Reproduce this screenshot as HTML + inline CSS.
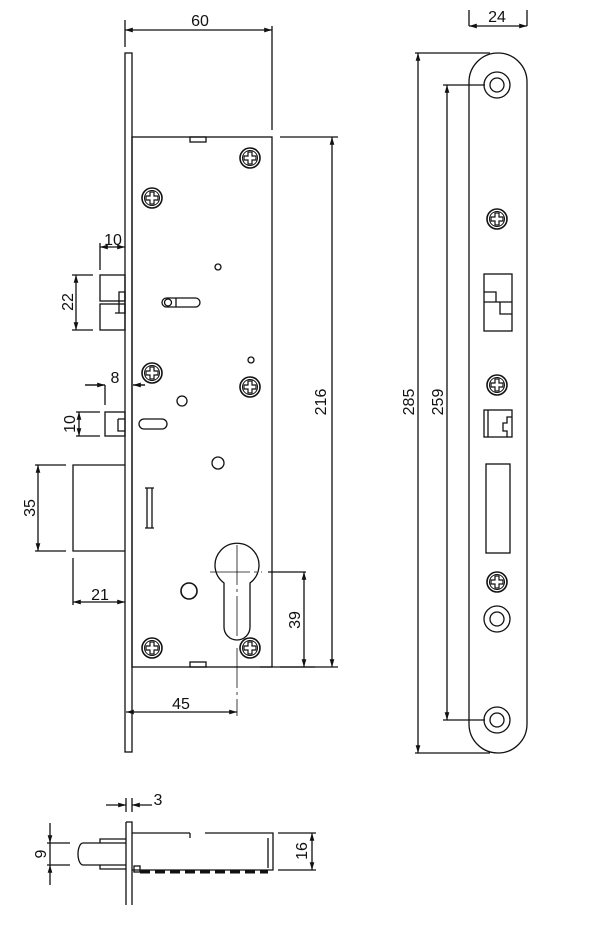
<!DOCTYPE html>
<html><head><meta charset="utf-8"><style>body{margin:0;background:#fff}svg{display:block}text{font-family:"Liberation Sans",sans-serif;font-size:16px;fill:#111}</style></head><body>
<svg width="600" height="930" viewBox="0 0 600 930" xmlns="http://www.w3.org/2000/svg">
<defs>
<marker id="a" viewBox="0 0 10 10" refX="10" refY="5" markerWidth="8" markerHeight="6" orient="auto-start-reverse"><path d="M0,2 L10,5 L0,8 z" fill="#111"/></marker>
<g id="sc"><circle r="10" fill="none" stroke="#111" stroke-width="1.6"/><circle r="7.5" fill="none" stroke="#111" stroke-width="1"/><path d="M-2,-6 h4 v4 h4 v4 h-4 v4 h-4 v-4 h-4 v-4 h4 z" fill="none" stroke="#111" stroke-width="1.2"/></g>
</defs>
<g fill="none" stroke="#111" stroke-width="1.3">
<rect x="125" y="53" width="7" height="699"/>
<rect x="132" y="137" width="140" height="530"/>
<rect x="190" y="137" width="16" height="5"/>
<rect x="190" y="662" width="16" height="5"/>
<rect x="100" y="275" width="25" height="26"/>
<rect x="100" y="304" width="25" height="26"/>
<path d="M119,292 h6 v21 h-6 z M115,313 h10"/>
<rect x="105" y="412" width="20" height="24"/>
<path d="M118,419 v12 h7 M118,419 h7"/>
<path d="M125,465 H73 V551 H125"/>
<rect x="162" y="298" width="38" height="9" rx="4.5"/>
<circle cx="168" cy="302.5" r="3.5"/>
<path d="M176,298 v9"/>
<rect x="139" y="419" width="28" height="10" rx="5"/>
<path d="M147,488 v40 M152,488 v40 M145,488 h9 M145,528 h9"/>
<circle cx="218" cy="267" r="3"/>
<circle cx="251" cy="360" r="3"/>
<circle cx="182" cy="401" r="5"/>
<circle cx="218" cy="463" r="6"/>
<circle cx="189" cy="591" r="8" stroke-width="1.6"/>
<path d="M224,583 A22,22 0 1 1 250,583 V627 A13,13 0 0 1 224,627 Z"/>
<path d="M237,545 V640 M237,648 V716 M210,572 H262" stroke-width="0.8" stroke-dasharray="40,4,3,4"/>
<path d="M125,47 V20 M272,130 V26"/>
<path d="M125,30 H272" marker-start="url(#a)" marker-end="url(#a)"/>
<path d="M280,137 H338 M280,667 H338"/>
<path d="M332,137 V667" marker-start="url(#a)" marker-end="url(#a)"/>
<path d="M100,243 V270"/>
<path d="M100,247 H125" marker-start="url(#a)" marker-end="url(#a)"/>
<path d="M72,275 H93 M72,330 H93"/>
<path d="M76,275 V330" marker-start="url(#a)" marker-end="url(#a)"/>
<path d="M105,385 V405 M85,385 H105 M133,385 H145"/>
<path d="M85,385 H105" marker-end="url(#a)"/>
<path d="M145,385 H133" marker-end="url(#a)"/>
<path d="M76,412 H100 M76,436 H100"/>
<path d="M79,412 V436" marker-start="url(#a)" marker-end="url(#a)"/>
<path d="M35,465 H66 M35,551 H66"/>
<path d="M38,465 V551" marker-start="url(#a)" marker-end="url(#a)"/>
<path d="M73,558 V605"/>
<path d="M73,602 H125" marker-start="url(#a)" marker-end="url(#a)"/>
<path d="M268,572 H306 M260,667 H315"/>
<path d="M304,572 V667" marker-start="url(#a)" marker-end="url(#a)"/>
<path d="M126,712 H237" marker-start="url(#a)" marker-end="url(#a)"/>
<path d="M469,82 A29,29 0 0 1 527,82 V724 A29,29 0 0 1 469,724 Z"/>
<circle cx="497" cy="85" r="13"/><circle cx="497" cy="85" r="7"/>
<circle cx="497" cy="720" r="13"/><circle cx="497" cy="720" r="7"/>
<circle cx="497" cy="619" r="13"/><circle cx="497" cy="619" r="7"/>
<rect x="484" y="274" width="28" height="57"/>
<path d="M484,292 h12 v10 h16 M484,302 h16 v12 h12"/>
<rect x="484" y="410" width="28" height="27"/>
<path d="M488,410 v27 M512,417 h-5 v6 h-4 v8 h4 v6"/>
<rect x="486" y="464" width="24" height="89"/>
<path d="M469,26 V10 M527,26 V10"/>
<path d="M469,26 H527" marker-start="url(#a)" marker-end="url(#a)"/>
<path d="M415,53 H490 M415,753 H490 M443,85 H485 M443,720 H485"/>
<path d="M418,53 V753" marker-start="url(#a)" marker-end="url(#a)"/>
<path d="M447,85 V720" marker-start="url(#a)" marker-end="url(#a)"/>
<path d="M126,822 H132 V905 M126,822 V905"/>
<path d="M132,833 H190 M205,833 H273 V870 H132"/>
<path d="M268,838 V868 M190,833 v5"/>
<path d="M126,843 H83 A5,11 0 0 0 83,865 H126 M100,843 v-4 h26 M100,865 v4 h26"/>
<path d="M126,798 V812 M132,798 V812"/>
<path d="M106,805 H126" marker-end="url(#a)"/>
<path d="M152,805 H132" marker-end="url(#a)"/>
<path d="M278,833 H316 M278,870 H316"/>
<path d="M312,833 V870" marker-start="url(#a)" marker-end="url(#a)"/>
<path d="M47,843 H70 M47,865 H70"/>
<path d="M50,823 V843" marker-end="url(#a)"/>
<path d="M50,885 V865" marker-end="url(#a)"/>
<path d="M50,843 V865"/>
<path d="M140,872 H268" stroke-width="3" stroke-dasharray="10,5"/>
<rect x="134" y="866" width="6" height="6"/>
</g>
<use href="#sc" x="250" y="158"/><use href="#sc" x="152" y="198"/><use href="#sc" x="152" y="373"/><use href="#sc" x="250" y="387"/><use href="#sc" x="152" y="648"/><use href="#sc" x="250" y="648"/>
<use href="#sc" x="497" y="219"/><use href="#sc" x="497" y="385"/><use href="#sc" x="497" y="582"/>
<text x="200" y="26" text-anchor="middle">60</text>
<text x="113" y="245" text-anchor="middle">10</text>
<text x="115" y="383" text-anchor="middle">8</text>
<text x="100" y="600" text-anchor="middle">21</text>
<text x="181" y="709" text-anchor="middle">45</text>
<text x="497" y="22" text-anchor="middle">24</text>
<text x="158" y="805" text-anchor="middle">3</text>
<text transform="translate(73,302) rotate(-90)" text-anchor="middle">22</text>
<text transform="translate(75,424) rotate(-90)" text-anchor="middle">10</text>
<text transform="translate(35,508) rotate(-90)" text-anchor="middle">35</text>
<text transform="translate(326,402) rotate(-90)" text-anchor="middle">216</text>
<text transform="translate(300,620) rotate(-90)" text-anchor="middle">39</text>
<text transform="translate(414,402) rotate(-90)" text-anchor="middle">285</text>
<text transform="translate(443,402) rotate(-90)" text-anchor="middle">259</text>
<text transform="translate(307,851) rotate(-90)" text-anchor="middle">16</text>
<text transform="translate(46,854) rotate(-90)" text-anchor="middle">9</text>
</svg>
</body></html>
